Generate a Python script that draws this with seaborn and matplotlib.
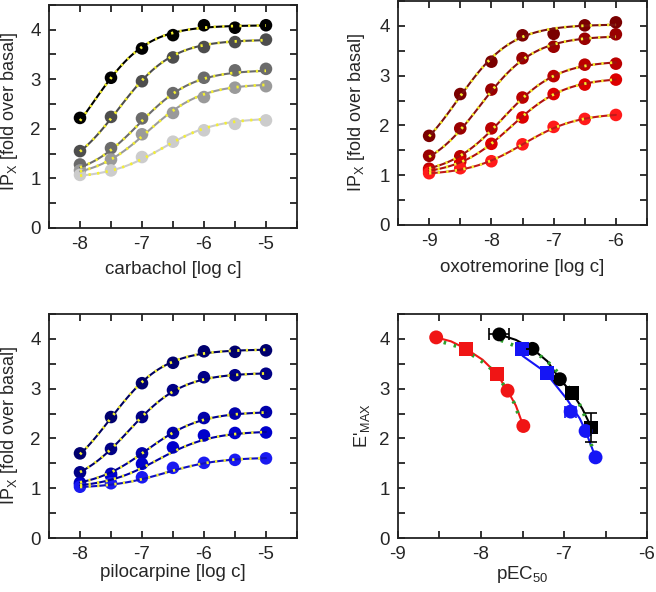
import numpy as np
import pandas as pd
import seaborn as sns
import matplotlib.pyplot as plt
from matplotlib.ticker import MultipleLocator

# concentrations (log c)
log_c_cch = [-8, -7.5, -7, -6.5, -6, -5.5, -5]
log_c_oxo = [-9, -8.5, -8, -7.5, -7, -6.5, -6]
log_c_pilo = [-8, -7.5, -7, -6.5, -6, -5.5, -5]

# IPx responses, one list per receptor-inactivation level
cch_resp = [
    [2.22, 3.03, 3.62, 3.89, 4.09, 4.04, 4.09],
    [1.55, 2.24, 2.96, 3.44, 3.65, 3.75, 3.80],
    [1.28, 1.61, 2.21, 2.72, 3.03, 3.18, 3.21],
    [1.16, 1.38, 1.89, 2.32, 2.64, 2.83, 2.86],
    [1.07, 1.16, 1.43, 1.74, 1.97, 2.10, 2.17],
]
oxo_resp = [
    [1.79, 2.63, 3.28, 3.81, 3.84, 4.01, 4.07],
    [1.39, 1.94, 2.72, 3.35, 3.58, 3.74, 3.83],
    [1.13, 1.38, 1.94, 2.56, 2.99, 3.22, 3.24],
    [1.09, 1.27, 1.63, 2.16, 2.63, 2.82, 2.92],
    [1.04, 1.14, 1.28, 1.62, 1.97, 2.13, 2.21],
]
pilo_resp = [
    [1.70, 2.43, 3.11, 3.52, 3.75, 3.74, 3.77],
    [1.32, 1.79, 2.43, 2.97, 3.23, 3.27, 3.30],
    [1.11, 1.29, 1.70, 2.11, 2.41, 2.50, 2.53],
    [1.08, 1.25, 1.49, 1.82, 2.06, 2.11, 2.12],
    [1.03, 1.10, 1.22, 1.41, 1.51, 1.57, 1.60],
]

# fitted parameters (pEC50, E'max) - also plotted in panel 4
cch_pec50 = [-7.78, -7.38, -7.05, -6.90, -6.67]
cch_emax = [4.09, 3.80, 3.19, 2.91, 2.22]
cch_shape = ['o', 'o', 'o', 's', 's']
oxo_pec50 = [-8.54, -8.18, -7.81, -7.68, -7.49]
oxo_emax = [4.03, 3.80, 3.30, 2.96, 2.25]
oxo_shape = ['o', 's', 's', 'o', 'o']
pilo_pec50 = [-7.51, -7.21, -6.92, -6.74, -6.62]
pilo_emax = [3.79, 3.32, 2.54, 2.15, 1.62]
pilo_shape = ['s', 's', 'o', 'o', 'o']
basal = 1.0

# error bars in panel 4
cch_xerr = [0.12, 0, 0, 0, 0]
cch_yerr = [0, 0, 0, 0, 0.29]
pilo_xerr = [0, 0, 0.065, 0, 0]

oxo_rel_x = [-8.54, -8.36, -8.18, -7.98, -7.81, -7.68, -7.58, -7.49]
oxo_rel_y = [4.03, 3.95, 3.80, 3.58, 3.30, 2.96, 2.66, 2.25]
oxo_op_x = [-8.45, -8.29, -8.07, -7.95, -7.81, -7.73, -7.60, -7.50]
oxo_op_y = [3.93, 3.85, 3.64, 3.50, 3.30, 3.08, 2.71, 2.25]
cch_rel_x = [-7.78, -7.58, -7.38, -7.20, -7.05, -6.90, -6.78, -6.67]
cch_rel_y = [4.09, 3.98, 3.80, 3.55, 3.19, 2.91, 2.60, 2.22]
pilo_rel_x = [-7.50, -7.23, -6.97, -6.81, -6.74, -6.62]
pilo_rel_y = [3.66, 3.34, 2.80, 2.40, 2.15, 1.62]
op_x = [-7.76, -7.65, -7.27, -7.13, -7.01, -6.85, -6.77, -6.71, -6.67, -6.63]
op_y = [3.97, 3.90, 3.64, 3.44, 3.18, 2.81, 2.54, 2.24, 1.87, 1.63]

grey_cols = ['#000000', '#4d4d4d', '#6b6b6b', '#9a9a9a', '#cccccc']
red_cols = ['#7a0000', '#990000', '#bb0000', '#dd0000', '#ff1a1a']
red_line = ['#7a1010', '#8b1010', '#a01010', '#b01010', '#c01a1a']
blue_cols = ['#00006e', '#000086', '#0000aa', '#0000cc', '#1a1af0']
blue_line = ['#000060', '#000070', '#000090', '#0000a0', '#1010c0']
yellow = '#f4f030'

sns.set_theme(style='ticks')
plt.rcParams['font.family'] = ['Liberation Sans', 'DejaVu Sans']
plt.rcParams['mathtext.fontset'] = 'custom'
plt.rcParams['mathtext.rm'] = 'Liberation Sans'
plt.rcParams['mathtext.it'] = 'Liberation Sans:italic'
plt.rcParams['axes.unicode_minus'] = False

fig = plt.figure(figsize=(6.56, 5.92), dpi=100)
ax1 = fig.add_axes([0.0747, 0.615, 0.378, 0.3767])
ax2 = fig.add_axes([0.6067, 0.62, 0.3796, 0.3784])
ax3 = fig.add_axes([0.0747, 0.0912, 0.378, 0.3784])
ax4 = fig.add_axes([0.6067, 0.0912, 0.3796, 0.3784])


def dose_panel(ax, log_c, resp, pec50, emax, cols, lcols, xlabel):
    pts = pd.DataFrame([(x, y, i) for i, row in enumerate(resp) for x, y in zip(log_c, row)],
                       columns=['x', 'y', 'series'])
    grid = np.linspace(log_c[0], log_c[-1], 120)
    fit = pd.DataFrame([(g, basal + (e - basal) / (1 + 10 ** (p - g)), i)
                        for i, (p, e) in enumerate(zip(pec50, emax)) for g in grid],
                       columns=['x', 'y', 'series'])
    sns.scatterplot(data=pts, x='x', y='y', hue='series', palette=cols, s=82,
                    linewidth=0, legend=False, ax=ax, zorder=2)
    sns.lineplot(data=fit, x='x', y='y', hue='series', palette=lcols, lw=1.5,
                 legend=False, ax=ax, zorder=3, estimator=None)
    sns.lineplot(data=fit, x='x', y='y', units='series', color=yellow, lw=2.0,
                 linestyle=(0, (0.8, 2.3)), estimator=None, legend=False, ax=ax, zorder=4)
    ax.set_xlim(log_c[0] - 0.5, log_c[-1] + 0.5)
    ax.set_xlabel(xlabel)
    ax.set_ylabel(r'IP$_\mathrm{X}$ [fold over basal]')


dose_panel(ax1, log_c_cch, cch_resp, cch_pec50, cch_emax, grey_cols, grey_cols, 'carbachol [log c]')
dose_panel(ax2, log_c_oxo, oxo_resp, oxo_pec50, oxo_emax, red_cols, red_line, 'oxotremorine [log c]')
dose_panel(ax3, log_c_pilo, pilo_resp, pilo_pec50, pilo_emax, blue_cols, blue_line, 'pilocarpine [log c]')

# panel 4: E'max vs pEC50
green = '#2ca02c'
rel = pd.concat([
    pd.DataFrame({'x': oxo_rel_x, 'y': oxo_rel_y, 'agonist': 'oxo'}),
    pd.DataFrame({'x': cch_rel_x, 'y': cch_rel_y, 'agonist': 'cch'}),
    pd.DataFrame({'x': pilo_rel_x, 'y': pilo_rel_y, 'agonist': 'pilo'}),
])
ops = pd.concat([
    pd.DataFrame({'x': oxo_op_x, 'y': oxo_op_y, 'curve': 'a'}),
    pd.DataFrame({'x': op_x, 'y': op_y, 'curve': 'b'}),
])
pal4 = {'oxo': '#f01515', 'cch': '#000000', 'pilo': '#1515f5'}
sns.lineplot(data=rel, x='x', y='y', hue='agonist', palette=pal4, lw=1.5, sort=False,
             estimator=None, legend=False, ax=ax4, zorder=2)
sns.lineplot(data=ops, x='x', y='y', units='curve', color=green, lw=2.6, sort=False,
             linestyle=(0, (0.7, 2.2)), estimator=None, legend=False, ax=ax4, zorder=3)

for xs, ys, sh, ag in [(oxo_pec50, oxo_emax, oxo_shape, 'oxo'),
                       (cch_pec50, cch_emax, cch_shape, 'cch'),
                       (pilo_pec50, pilo_emax, pilo_shape, 'pilo')]:
    d = pd.DataFrame({'x': xs, 'y': ys, 'shape': sh})
    sns.scatterplot(data=d, x='x', y='y', style='shape', markers={'o': 'o', 's': 's'},
                    color=pal4[ag], s=100, linewidth=0, legend=False, ax=ax4, zorder=4)

ax4.errorbar(cch_pec50, cch_emax, xerr=cch_xerr, yerr=cch_yerr, fmt='none',
             ecolor='black', elinewidth=1.2, capsize=4, capthick=1.2, zorder=5)
ax4.errorbar(pilo_pec50, pilo_emax, xerr=pilo_xerr, fmt='none',
             ecolor='#1515f5', elinewidth=1.2, capsize=4, capthick=1.2, zorder=5)
ax4.set_xlim(-9, -6)
ax4.set_xlabel(r'pEC$_{50}$')
ax4.set_ylabel(r"E'$_\mathrm{MAX}$")

for ax in [ax1, ax2, ax3, ax4]:
    ax.set_ylim(0, 4.5)
    ax.xaxis.set_major_locator(MultipleLocator(1))
    ax.xaxis.set_minor_locator(MultipleLocator(0.5))
    ax.yaxis.set_major_locator(MultipleLocator(1))
    ax.yaxis.set_minor_locator(MultipleLocator(0.5))
    ax.tick_params(which='both', direction='in', top=True, right=True,
                   length=5, width=1.2, color='#111111', labelsize=13.5, pad=6)
    for sp in ax.spines.values():
        sp.set_linewidth(1.3)
        sp.set_color('#222222')
    ax.xaxis.label.set_size(13.5)
    ax.yaxis.label.set_size(13)
    ax.xaxis.label.set_va('baseline')

# label placement (axes fraction)
ax1.xaxis.set_label_coords(0.5, -46 / 223)
ax2.xaxis.set_label_coords(0.5, -47 / 224)
ax3.xaxis.set_label_coords(0.5, -39 / 224)
ax4.xaxis.set_label_coords(0.5, -41 / 224)
ax1.yaxis.set_label_coords(-0.115, 0.52)
ax2.yaxis.set_label_coords(-0.125, 0.5)
ax3.yaxis.set_label_coords(-0.115, 0.5)
ax4.yaxis.set_label_coords(-0.104, 0.5)

fig.savefig('out.png', dpi=100)
